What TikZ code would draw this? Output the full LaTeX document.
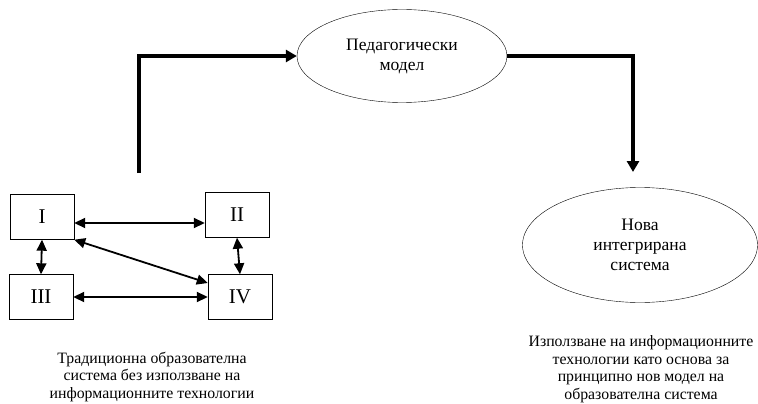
\documentclass[tikz,border=0pt]{standalone}
\usepackage{fontspec}
\setmainfont{Liberation Serif}
\usetikzlibrary{arrows.meta,shapes.geometric}

\begin{document}
\begin{tikzpicture}[x=1pt,y=-1pt,
  roman/.style={draw,minimum width=64pt,minimum height=45pt,font=\fontsize{21}{21}\selectfont},
  oval/.style={draw,ellipse,align=center,inner sep=0pt,font=\fontsize{17.5}{20}\selectfont},
  link/.style={{Triangle[length=11pt,width=10pt]}-{Triangle[length=11pt,width=10pt]},line width=1.8pt},
  flow/.style={-{Triangle[length=11pt,width=12pt]},line width=3.6pt},
  caption/.style={align=center,inner sep=1pt,font=\fontsize{15.8}{17.5}\selectfont}]
  \useasboundingbox (0,0) rectangle (758,404);
  % the four parts of the old system
  \node[roman] (i) at (42,217) {I};
  \node[roman] (ii) at (237,215) {II};
  \node[roman] (iii) at (41,297) {III};
  \node[roman] (iv) at (240,297) {IV};
  \draw[link] ([yshift=-6pt]i.east) -- ([yshift=-8pt]ii.west);
  \draw[link] (i.south) -- (iii.north);
  \draw[link] (ii.south) -- (iv.north);
  \draw[link] (iii.east) -- (iv.west);
  \draw[link] (i.south east) -- ([yshift=14pt]iv.west);
  % models
  \node[oval,minimum width=210pt,minimum height=93pt] (ped) at (402,56) {Педагогически\\модел};
  \node[oval,minimum width=235pt,minimum height=115pt] (new) at (640,245) {Нова\\интегрирана\\система};
  \coordinate (start) at (139,173);
  \coordinate (drop) at (633,172);
  \draw[flow] (start) |- (ped.west);
  \draw[flow] (ped.east) -| (drop);
  % captions
  \node[caption] (old) at (152,377) {Традиционна образователна\\система без използване на\\информационните технологии};
  \node[caption] (nov) at (641,369) {Използване на информационните\\технологии като основа за\\принципно нов модел на\\образователна система};
\end{tikzpicture}
\end{document}
